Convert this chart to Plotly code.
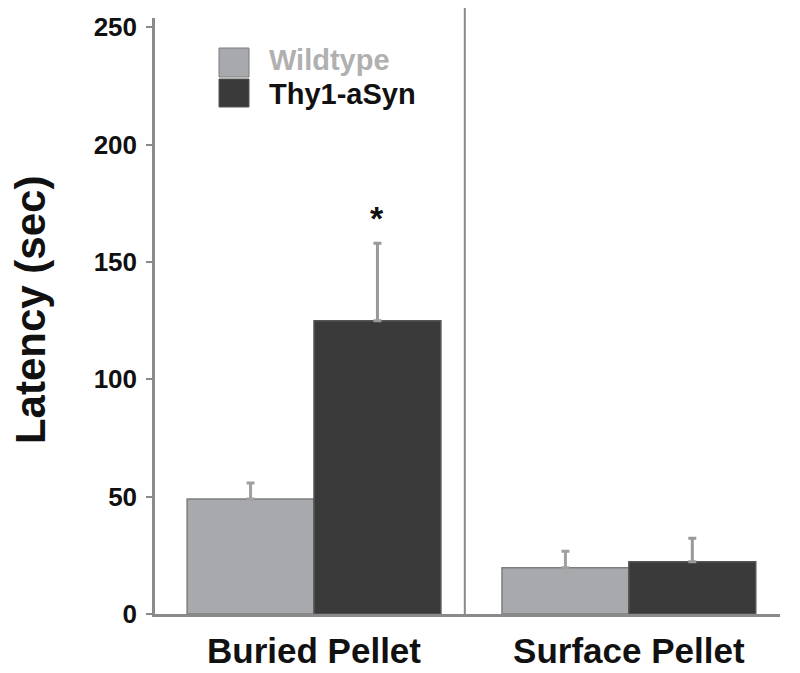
import plotly.graph_objects as go

categories = ["Buried Pellet", "Surface Pellet"]
series_names = ["Wildtype", "Thy1-aSyn"]
wildtype = [49.0, 19.7]
wildtype_err = [6.8, 7.0]
thy1 = [125.0, 22.3]
thy1_err = [33.0, 10.0]
y_ticks = [0, 50, 100, 150, 200, 250]

FONT = "Liberation Sans, Arial, Helvetica, sans-serif"
GRAY = "#a7a9ac"
DARK = "#3a3a3a"
AXIS = "#8a8a8a"

fig = go.Figure()
fig.add_trace(go.Bar(
    x=categories, y=wildtype, name=series_names[0],
    marker=dict(color=GRAY, line=dict(color="#7d7d7d", width=1.5)),
    error_y=dict(type="data", array=wildtype_err, arrayminus=[0, 0], symmetric=False,
                 color="#a0a0a0", thickness=3, width=4),
    showlegend=False,
))
fig.add_trace(go.Bar(
    x=categories, y=thy1, name=series_names[1],
    marker=dict(color=DARK, line=dict(color="#555555", width=1.5)),
    error_y=dict(type="data", array=thy1_err, arrayminus=[0, 0], symmetric=False,
                 color="#999999", thickness=3, width=4),
    showlegend=False,
))

OFF = 8  # page body margin
L, R, T, B = 155 - OFF, 20, 18 - OFF, 59
W, H = 800 - OFF, 673 - OFF
pw, ph = W - L - R, H - T - B

def px_x(x):
    return (x - OFF - L) / pw

def px_y(y):
    return (H - B - (y - OFF)) / ph

shapes = [
    dict(type="line", xref="x", yref="paper", x0=0.479, x1=0.479, y0=0, y1=px_y(0),
         line=dict(color=AXIS, width=2)),
    dict(type="rect", xref="paper", yref="paper", x0=px_x(219), x1=px_x(249),
         y0=px_y(77), y1=px_y(48), fillcolor=GRAY, line=dict(color="#7d7d7d", width=1)),
    dict(type="rect", xref="paper", yref="paper", x0=px_x(219), x1=px_x(249),
         y0=px_y(107), y1=px_y(79), fillcolor=DARK, line=dict(color="#555555", width=1)),
]

annotations = [
    dict(text="Latency (sec)", xref="paper", yref="paper", x=px_x(30), y=0.51,
         textangle=-90, showarrow=False, xanchor="center", yanchor="middle",
         font=dict(family=FONT, size=42, color="#111", weight="bold")),
    dict(text=series_names[0], xref="paper", yref="paper", x=px_x(268), y=px_y(60),
         showarrow=False, xanchor="left", yanchor="middle", borderpad=0,
         font=dict(family=FONT, size=29, color="#b0b0b0", weight="bold")),
    dict(text=series_names[1], xref="paper", yref="paper", x=px_x(268), y=px_y(94),
         showarrow=False, xanchor="left", yanchor="middle", borderpad=0,
         font=dict(family=FONT, size=29, color="#111", weight="bold")),
    dict(text="*", xref="x", yref="y", x=0.2, y=thy1[0] + thy1_err[0] + 2,
         showarrow=False, xanchor="center", yanchor="bottom",
         font=dict(family=FONT, size=34, color="#111", weight="bold")),
]

fig.update_layout(
    width=W, height=H,
    margin=dict(l=L, r=R, t=T, b=B, autoexpand=False),
    paper_bgcolor="white", plot_bgcolor="white",
    barmode="group", bargap=0.194, bargroupgap=0,
    shapes=shapes, annotations=annotations,
    xaxis=dict(range=[-0.505, 1.48], showline=True, linecolor=AXIS, linewidth=2.5,
               ticks="", showgrid=False, zeroline=False, ticklabelstandoff=4,
               tickfont=dict(family=FONT, size=35, color="#111", weight="bold")),
    yaxis=dict(range=[0, 254], tickvals=y_ticks, showline=True, linecolor=AXIS,
               linewidth=2.5, ticks="outside", ticklen=6, tickwidth=2, tickcolor=AXIS,
               showgrid=False, zeroline=False, ticklabelstandoff=4,
               tickfont=dict(family=FONT, size=26, color="#111", weight="bold")),
)

fig.write_html("out.html")
